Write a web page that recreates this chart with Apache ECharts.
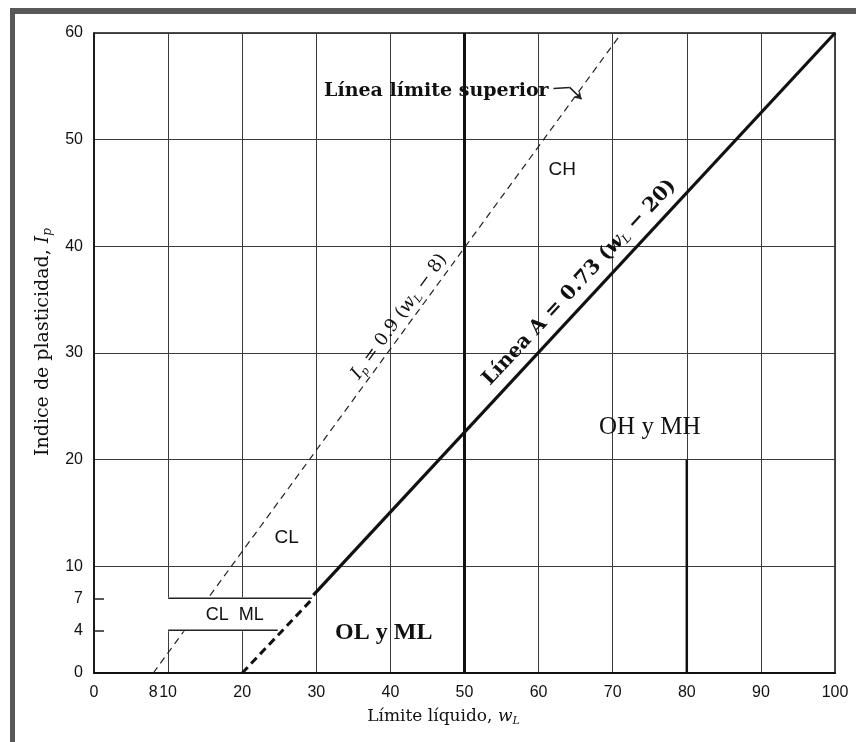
<!DOCTYPE html>
<html><head><meta charset="utf-8">
<script src="https://cdn.jsdelivr.net/npm/echarts@6/dist/echarts.min.js"></script>
<style>
html,body{margin:0;padding:0;background:#fff;}
#chart{position:absolute;left:0;top:0;width:856px;height:742px;}
#frame{position:absolute;left:10px;top:8px;width:846px;height:734px;border-top:6px solid #585858;border-left:5px solid #585858;box-sizing:border-box;pointer-events:none;}
</style></head><body>
<div id="chart"></div><div id="frame"></div>
<script>
// ---- data ----
const xTickLabels = [0, 8, 10, 20, 30, 40, 50, 60, 70, 80, 90, 100];
const yTickLabels = [0, 4, 7, 10, 20, 30, 40, 50, 60];
const yMinorTicks = [4, 7];
// U line (upper limit line), dashed
const uLineX = [8, 71.2];
const uLineY = [0, 60];
// A line, solid part and dashed lower part
const aLineSolidX = [29.6, 100];
const aLineSolidY = [7.3, 60];
const aLineDashX = [20, 29.4];
const aLineDashY = [0, 6.9];
// CL-ML band
const clmlTopX = [10, 29.4];
const clmlTopY = [7, 7];
const clmlBottomX = [10, 24.8];
const clmlBottomY = [4, 4];
const clmlBandX = [10, 24.8, 29.4, 10];
const clmlBandY = [4, 4, 7, 7];
// heavier grid lines
const heavy50X = [50, 50];
const heavy50Y = [0, 60];
const heavy80X = [80, 80];
const heavy80Y = [0, 20];

const pairs = (xs, ys) => xs.map((x, i) => [x, ys[i]]);
const SERIF = 'DejaVu Serif';
const SERIF2 = 'Liberation Serif';
const SANS = 'Liberation Sans';

function lbl(coord, text, opts) {
  return {
    coord: coord,
    symbol: 'rect', symbolSize: 1,
    itemStyle: { color: 'rgba(0,0,0,0)' },
    label: Object.assign({
      show: true, position: 'inside', formatter: text,
      color: '#111', fontFamily: SERIF, fontSize: 18
    }, opts || {})
  };
}

const chart = echarts.init(document.getElementById('chart'));
chart.setOption({
  animation: false,
  backgroundColor: '#fff',
  grid: { left: 94, right: 21, top: 33, bottom: 69, show: true, borderColor: '#111', borderWidth: 1.5 },
  xAxis: {
    type: 'value', min: 0, max: 100, interval: 10,
    axisLine: { show: true, lineStyle: { color: '#111', width: 2 } },
    axisTick: { show: false },
    axisLabel: { customValues: xTickLabels, margin: 12, fontSize: 16, fontFamily: SANS, color: '#111' },
    splitLine: { show: true, lineStyle: { color: '#3a3a3a', width: 1 } },
    name: 'Límite líquido, {i|w}{s|L}',
    nameLocation: 'middle', nameGap: 33,
    nameTextStyle: {
      fontFamily: SERIF, fontSize: 17, color: '#111', padding: [0, 42, 0, 0],
      rich: {
        i: { fontFamily: SERIF, fontStyle: 'italic', fontSize: 17, color: '#111' },
        s: { fontFamily: SERIF, fontStyle: 'italic', fontSize: 11, color: '#111', padding: [10, 0, 0, 0] }
      }
    }
  },
  yAxis: [{
    type: 'value', min: 0, max: 60, interval: 10,
    axisLine: { show: true, lineStyle: { color: '#111', width: 1.5 } },
    axisTick: { show: false },
    axisLabel: { customValues: yTickLabels, margin: 11, fontSize: 16, fontFamily: SANS, color: '#111' },
    splitLine: { show: true, lineStyle: { color: '#3a3a3a', width: 1 } },
    name: 'Indice de plasticidad, {i|I}{s|p}',
    nameLocation: 'middle', nameGap: 40, nameRotate: 90,
    nameTextStyle: {
      fontFamily: SERIF, fontSize: 19, color: '#111', padding: [0, 0, 0, 22],
      rich: {
        i: { fontFamily: SERIF, fontStyle: 'italic', fontSize: 19, color: '#111' },
        s: { fontFamily: SERIF, fontStyle: 'italic', fontSize: 12, color: '#111', padding: [10, 0, 0, 0] }
      }
    }
  }, {
    type: 'value', min: 0, max: 60, position: 'left',
    axisLine: { show: false },
    axisLabel: { show: false },
    splitLine: { show: false },
    axisTick: { show: true, inside: true, length: 10, customValues: yMinorTicks, lineStyle: { color: '#222', width: 1.5 } }
  }],
  series: [
    { type: 'line', data: pairs(heavy50X, heavy50Y), symbol: 'none', z: 2,
      lineStyle: { color: '#111', width: 3 } },
    { type: 'line', data: pairs(heavy80X, heavy80Y), symbol: 'none', z: 2,
      lineStyle: { color: '#111', width: 2.5 } },
    { type: 'line', data: pairs(uLineX, uLineY), symbol: 'none', z: 3,
      lineStyle: { color: '#222', width: 1.2, type: [7, 5] },
      markLine: {
        silent: true, symbol: ['none', 'none'],
        lineStyle: { color: '#222', width: 1.5, type: 'solid' },
        label: { show: false },
        data: [
          [{ coord: [62.0, 54.8], symbol: 'none' }, { coord: [64.2, 54.9], symbol: 'none' }],
          [{ coord: [64.2, 54.9], symbol: 'none' }, { coord: [65.8, 53.8], symbol: 'arrow', symbolSize: 7 }]
        ]
      }
    },
    { type: 'custom', z: 4, silent: true,
      data: [[0, 0]],
      renderItem: function (params, api) {
        const pts = clmlBandX.map((x, i) => api.coord([x, clmlBandY[i]]));
        return { type: 'polygon', shape: { points: pts }, style: { fill: '#fff', stroke: '#fff', lineWidth: 2 } };
      }
    },
    { type: 'line', data: pairs(clmlTopX, clmlTopY), symbol: 'none', z: 5,
      lineStyle: { color: '#222', width: 1.5 } },
    { type: 'line', data: pairs(clmlBottomX, clmlBottomY), symbol: 'none', z: 5,
      lineStyle: { color: '#222', width: 1.5 } },
    { type: 'line', data: pairs(aLineDashX, aLineDashY), symbol: 'none', z: 6,
      lineStyle: { color: '#111', width: 3, type: [8, 5] } },
    { type: 'line', data: pairs(aLineSolidX, aLineSolidY), symbol: 'none', z: 6,
      lineStyle: { color: '#111', width: 3.2 },
      markPoint: {
        silent: true,
        data: [
          lbl([46.2, 54.6], 'Línea límite superior', { fontWeight: 'bold', fontSize: 19 }),
          lbl([63.2, 47.2], 'CH', { fontFamily: SANS, fontSize: 19 }),
          lbl([26.0, 12.7], 'CL', { fontFamily: SANS, fontSize: 19 }),
          lbl([19.0, 5.4], 'CL  ML', { fontFamily: SANS, fontSize: 18 }),
          lbl([39.1, 3.8], 'OL y ML', { fontFamily: SERIF2, fontWeight: 'bold', fontSize: 24 }),
          lbl([75.0, 23.0], 'OH y MH', { fontFamily: SERIF2, fontSize: 25 }),
          lbl([65.5, 36.6], '{b|Línea A = 0.73 (}{i|w}{s|L}{b| − 20)}', {
            rotate: 47,
            rich: {
              b: { fontFamily: SERIF, fontWeight: 'bold', fontSize: 20, color: '#111' },
              i: { fontFamily: SERIF, fontStyle: 'italic', fontWeight: 'bold', fontSize: 20, color: '#111' },
              s: { fontFamily: SERIF, fontStyle: 'italic', fontSize: 12, color: '#111', padding: [10, 0, 0, 0] }
            }
          }),
          lbl([41.2, 33.4], '{i|I}{s|p}{n| = 0.9 (}{i|w}{s|L}{n| − 8)}', {
            rotate: 54,
            rich: {
              n: { fontFamily: SERIF, fontSize: 18, color: '#111' },
              i: { fontFamily: SERIF, fontStyle: 'italic', fontSize: 18, color: '#111' },
              s: { fontFamily: SERIF, fontStyle: 'italic', fontSize: 11, color: '#111', padding: [10, 0, 0, 0] }
            }
          })
        ]
      }
    }
  ]
});
</script></body></html>
